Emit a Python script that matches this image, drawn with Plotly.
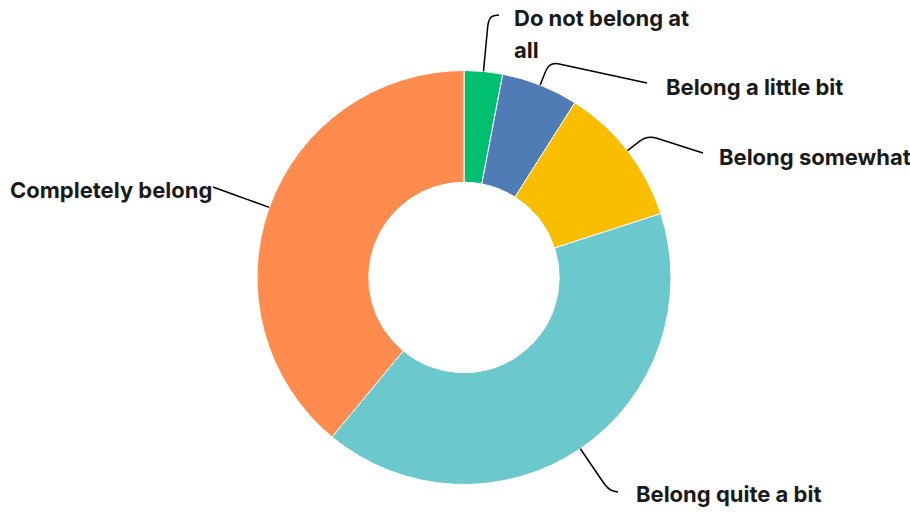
import math
import plotly.graph_objects as go

# ---- data ----
categories = ["Do not belong at all", "Belong a little bit", "Belong somewhat",
              "Belong quite a bit", "Completely belong"]
values = [3, 6, 11, 41, 39]
colors = ["#00BF6F", "#507CB6", "#F9BE00", "#6BC8CD", "#FF8B4F"]
label_lines = [["Do not belong at", "all"], ["Belong a little bit"], ["Belong somewhat"],
               ["Belong quite a bit"], ["Completely belong"]]

# ---- layout (pixels) ----
W, H = 910, 512
CX, CY, R = 464, 277.5, 207
HOLE = 0.46
FONT = "Inter"
FS = 22
conn_end = [(499, 15), (647, 83), (703, 153), (618, 492), (213, 187)]
elbow_d = [55, 25, 25, 50, 25]
label_pos = [(512, 18), (664, 87), (717, 157), (634, 494), (214, 190)]
label_anchor = ["left", "left", "left", "left", "right"]
LINE_GAP = 32


def px2paper(x, y):
    return x / W, 1 - y / H


fig = go.Figure(go.Pie(
    labels=categories, values=values, sort=False, direction="clockwise",
    rotation=0, hole=HOLE, textinfo="none", hoverinfo="label+percent",
    marker=dict(colors=colors, line=dict(color="white", width=1)),
    domain=dict(x=[(CX - R) / W, (CX + R) / W],
                y=[(H - CY - R) / H, (H - CY + R) / H]),
    showlegend=False,
))

shapes = []
annotations = []
total = sum(values)
cum = 0
for i, v in enumerate(values):
    mid = (cum + v / 2) / total * 2 * math.pi
    cum += v
    ux, uy = math.sin(mid), -math.cos(mid)
    p0 = (CX + R * ux, CY + R * uy)
    el = (p0[0] + elbow_d[i] * ux, p0[1] + elbow_d[i] * uy)
    end = conn_end[i]
    rr = 10
    a = (el[0] - rr * ux, el[1] - rr * uy)
    dx, dy = end[0] - el[0], end[1] - el[1]
    dl = math.hypot(dx, dy) or 1
    rr2 = min(rr, dl * 0.5)
    b = (el[0] + rr2 * dx / dl, el[1] + rr2 * dy / dl)
    pts = [p0, a, el, b, end]
    pp = [px2paper(*p) for p in pts]
    path = (f"M {pp[0][0]},{pp[0][1]} L {pp[1][0]},{pp[1][1]} "
            f"Q {pp[2][0]},{pp[2][1]} {pp[3][0]},{pp[3][1]} L {pp[4][0]},{pp[4][1]}")
    shapes.append(dict(type="path", path=path, xref="paper", yref="paper",
                       line=dict(color="black", width=1.5)))
    lx, ly = label_pos[i]
    for j, line in enumerate(label_lines[i]):
        ax, ay = px2paper(lx, ly + j * LINE_GAP)
        annotations.append(dict(text=f"<b>{line}</b>", x=ax, y=ay, xref="paper", yref="paper",
                                xanchor=label_anchor[i], yanchor="middle", showarrow=False,
                                font=dict(family=FONT, size=FS, color="#1a1a1a")))

fig.update_layout(
    width=W, height=H, margin=dict(l=0, r=0, t=0, b=0),
    paper_bgcolor="white", plot_bgcolor="white",
    shapes=shapes, annotations=annotations,
)
fig.write_html("out.html", config={"displayModeBar": False},
               post_script="document.body.style.margin='0';")
